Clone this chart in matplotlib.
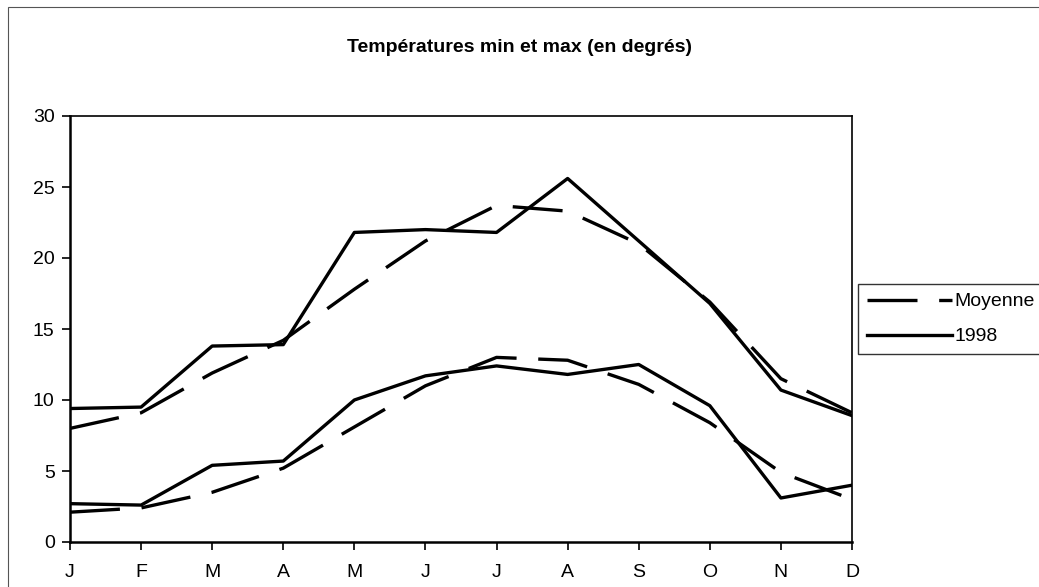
import numpy as np
import matplotlib
matplotlib.use("Agg")
from matplotlib import pyplot as plt
from matplotlib.patches import Rectangle

plt.rcParams['font.family'] = ['Liberation Sans', 'DejaVu Sans']

# data
months = ['J', 'F', 'M', 'A', 'M', 'J', 'J', 'A', 'S', 'O', 'N', 'D']
max_moyenne = [8.0, 9.1, 11.9, 14.2, 17.8, 21.2, 23.7, 23.3, 21.0, 16.9, 11.5, 9.1]
max_1998    = [9.4, 9.5, 13.8, 13.9, 21.8, 22.0, 21.8, 25.6, 21.2, 16.8, 10.7, 8.9]
min_moyenne = [2.1, 2.4, 3.5, 5.2, 8.1, 11.0, 13.0, 12.8, 11.1, 8.4, 4.9, 3.0]
min_1998    = [2.7, 2.6, 5.4, 5.7, 10.0, 11.7, 12.4, 11.8, 12.5, 9.6, 3.1, 4.0]

x = np.arange(len(months))

fig = plt.figure(figsize=(10.39, 5.87), dpi=100)
ax = fig.add_axes([70/1039, 1 - 542/587, (852-70)/1039, (542-116)/587])

dash = (0, (15, 6.5))
lw = 2.4
l1, = ax.plot(x, max_moyenne, color='black', lw=lw, linestyle=dash, label='Moyenne')
l2, = ax.plot(x, max_1998, color='black', lw=lw, label='1998')
ax.plot(x, min_moyenne, color='black', lw=lw, linestyle=dash)
ax.plot(x, min_1998, color='black', lw=lw)

ax.set_xlim(0, 11)
ax.set_ylim(0, 30)
ax.set_yticks(range(0, 31, 5))
ax.set_xticks(x)
ax.set_xticklabels(months)
ax.tick_params(axis='both', direction='out', length=6, width=1.2, labelsize=14, colors='black')
ax.tick_params(axis='x', pad=10)
ax.tick_params(axis='y', pad=5)
for side in ['left', 'bottom']:
    ax.spines[side].set_linewidth(1.8)
for side in ['top', 'right']:
    ax.spines[side].set_linewidth(1.2)

fig.text(0.5, 1 - 47/587, 'Températures min et max (en degrés)', ha='center', va='center',
         fontsize=14, fontweight='bold')

leg = fig.legend(handles=[l1, l2], loc='upper left', bbox_to_anchor=(858/1039, 1 - 284/587),
                 frameon=True, fancybox=False, edgecolor='black', fontsize=14,
                 handlelength=4.4, handletextpad=0.1, borderpad=0.45, labelspacing=0.9,
                 borderaxespad=0)
leg.get_frame().set_linewidth(1.0)

# outer chart border
fig.patches.append(Rectangle((8/1039, -0.05), 1.05, 1 - 7/587 + 0.05, transform=fig.transFigure,
                             fill=False, edgecolor='#555555', lw=0.8))

fig.savefig('out.png', dpi=100)
